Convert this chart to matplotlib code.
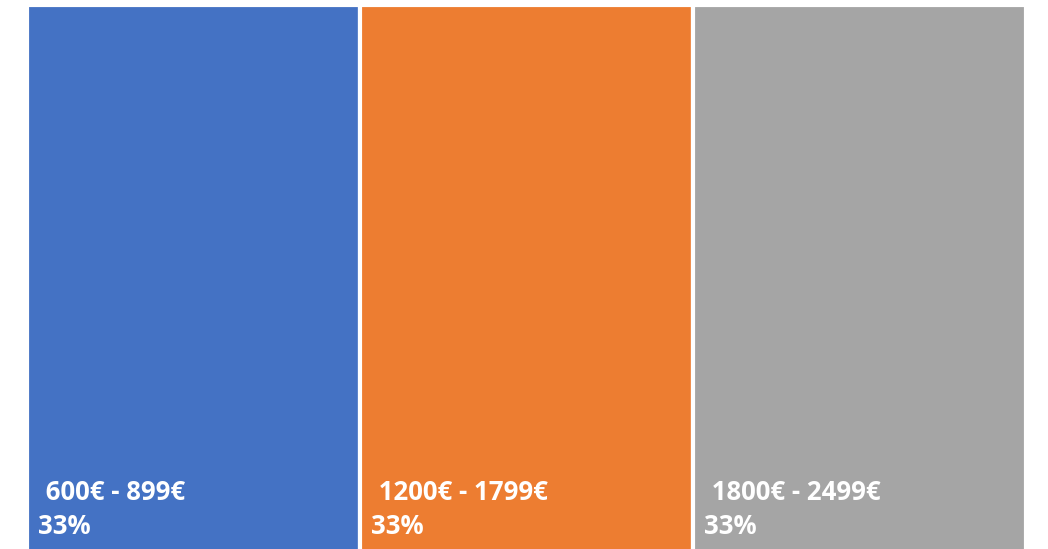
import matplotlib
matplotlib.use("Agg")
import matplotlib.pyplot as plt
from matplotlib.transforms import blended_transform_factory, offset_copy

categories = ["600€ - 899€", "1200€ - 1799€", "1800€ - 2499€"]
values = [33, 33, 33]
pct_labels = ["33%", "33%", "33%"]
colors = ["#4472C4", "#ED7D31", "#A5A5A5"]

W, H = 1048, 549
fig = plt.figure(figsize=(W / 100, H / 100), dpi=100)
left, right, top, bottom = 27, 1026, 5, -6
ax = fig.add_axes([left / W, bottom / H, (right - left) / W, (H - top - bottom) / H])
ax.set_xlim(0, sum(values))
ax.set_ylim(0, 1)
ax.axis("off")

starts = [sum(values[:i]) for i in range(len(values))]
ax.bar(starts, [1] * len(values), width=values, align="edge", color=colors,
       edgecolor="white", linewidth=3)

trans = blended_transform_factory(ax.transData, fig.transFigure)
font = dict(family=["Open Sans", "DejaVu Sans"], fontweight="bold", color="white", fontsize=18.5)
for s, cat, pct in zip(starts, categories, pct_labels):
    ax.text(s, (H - 500) / H, " " + cat, transform=offset_copy(trans, fig=fig, x=12, y=0, units="dots"),
            ha="left", va="baseline", **font)
    ax.text(s, (H - 534) / H, pct, transform=offset_copy(trans, fig=fig, x=11, y=0, units="dots"),
            ha="left", va="baseline", **font)

fig.savefig("out.png", dpi=100)
